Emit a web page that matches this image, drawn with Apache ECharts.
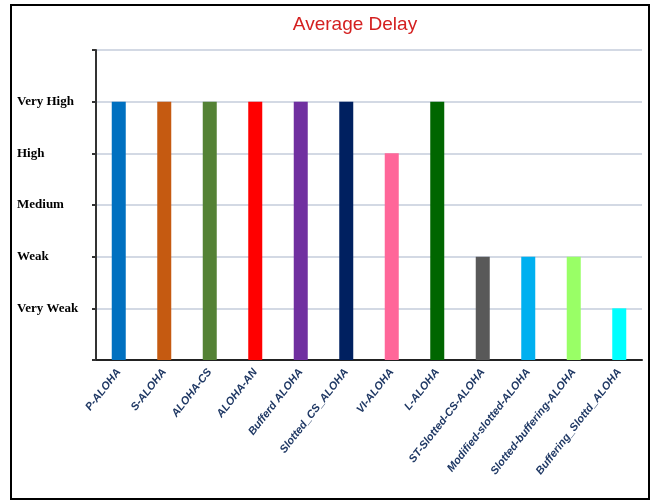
<!DOCTYPE html>
<html><head><meta charset="utf-8">
<script src="https://cdn.jsdelivr.net/npm/echarts@6/dist/echarts.min.js"></script>
<style>html,body{margin:0;padding:0;background:#fff}#c{width:650px;height:500px}</style>
</head><body><div id="c"></div>
<script>
const categories = ["P-ALOHA","S-ALOHA","ALOHA-CS","ALOHA-AN","Bufferd ALOHA","Slotted_CS_ALOHA","VI-ALOHA","L-ALOHA","ST-Slotted-CS-ALOHA","Modified-slotted-ALOHA","Slotted-buffering-ALOHA","Buffering_Slottd_ALOHA"];
const values = [5,5,5,5,5,5,4,5,2,2,2,1];
const barColors = ["#0070C0","#C55A11","#548235","#FF0000","#7030A0","#002060","#FF6699","#006600","#595959","#00B0F0","#99FF66","#00FFFF"];
const levelLabels = ["", "Very Weak", "Weak", "Medium", "High", "Very High", ""];

const chart = echarts.init(document.getElementById('c'), null, {renderer:'canvas'});
chart.setOption({
  animation:false,
  backgroundColor:'#fff',
  title:{text:'Average Delay', left:350, textAlign:'center', top:10,
    textStyle:{color:'#D42020', fontFamily:'Liberation Sans Narrow, Liberation Sans, sans-serif', fontWeight:'normal', fontSize:19}},
  graphic:[{type:'rect', shape:{x:11,y:5,width:638,height:494}, style:{fill:'none', stroke:'#000', lineWidth:2}, z:100}],
  grid:{left:96, right:8, top:50, bottom:140},
  xAxis:{type:'category', data:categories,
    axisLine:{lineStyle:{color:'#222', width:2}},
    axisTick:{show:false},
    axisLabel:{interval:0, rotate:52, margin:10, color:'#1F3864', fontStyle:'italic', fontWeight:'bold', fontSize:11,
      fontFamily:'Liberation Sans Narrow, Liberation Sans, sans-serif'}},
  yAxis:{type:'value', min:0, max:6, interval:1,
    axisLine:{show:true, lineStyle:{color:'#333', width:2}},
    axisTick:{show:true, length:4, lineStyle:{color:'#333', width:2}},
    splitLine:{lineStyle:{color:'#D3D9E4', width:2}},
    axisLabel:{align:'left', margin:79, color:'#000', fontWeight:'bold', fontSize:13, padding:[0,0,4,0],
      fontFamily:'Liberation Serif, serif',
      formatter:function(v){return levelLabels[v] || '';}}},
  series:[{type:'bar', barWidth:14,
    data:values.map(function(v,i){return {value:v, itemStyle:{color:barColors[i]}};})}]
});
</script></body></html>
